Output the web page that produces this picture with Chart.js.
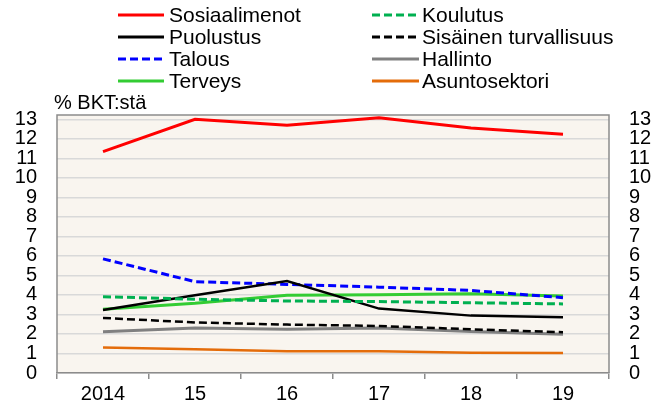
<!DOCTYPE html>
<html>
<head>
<meta charset="utf-8">
<script src="https://cdn.jsdelivr.net/npm/chart.js@4.4.0/dist/chart.umd.min.js"></script>
<style>
html,body{margin:0;padding:0;background:#fff;}
#wrap{width:666px;height:405px;}
</style>
</head>
<body>
<div id="wrap"><canvas id="c" width="666" height="405"></canvas></div>
<script>
const categories = ['2014', '15', '16', '17', '18', '19'];
const yTicks = [0,1,2,3,4,5,6,7,8,9,10,11,12,13];
const seriesNames = ['Sosiaalimenot','Koulutus','Puolustus','Sisäinen turvallisuus','Talous','Hallinto','Terveys','Asuntosektori'];
const sosiaalimenot = [11.34, 13.0, 12.69, 13.08, 12.55, 12.23];
const koulutus      = [3.91, 3.78, 3.69, 3.66, 3.60, 3.54];
const puolustus     = [3.23, 3.98, 4.71, 3.30, 2.94, 2.86];
const sisainen      = [2.82, 2.59, 2.48, 2.41, 2.24, 2.09];
const talous        = [5.85, 4.68, 4.54, 4.40, 4.23, 3.86];
const hallinto      = [2.11, 2.30, 2.24, 2.31, 2.13, 1.99];
const terveys       = [3.27, 3.57, 3.98, 4.01, 4.06, 3.95];
const asuntosektori = [1.31, 1.22, 1.12, 1.11, 1.04, 1.02];
const yTitle = '% BKT:stä';

const FONT = 'Arial, "Liberation Sans", sans-serif';
const styles = [
  {c:'#ff0000', d:[], w:3},
  {c:'#00b050', d:[8,4], w:3},
  {c:'#000000', d:[], w:2.5},
  {c:'#000000', d:[8,4], w:2.5},
  {c:'#0000ff', d:[8,4], w:3},
  {c:'#808080', d:[], w:3},
  {c:'#33cc33', d:[], w:3},
  {c:'#e46c0a', d:[], w:2.5}
];
const values = [sosiaalimenot, koulutus, puolustus, sisainen, talous, hallinto, terveys, asuntosektori];

const datasets = values.map((v,i)=>({
  label: seriesNames[i],
  data: v,
  borderColor: styles[i].c,
  borderDash: styles[i].d,
  borderWidth: styles[i].w,
  pointRadius: 0,
  tension: 0,
  fill: false,
  borderCapStyle: 'butt'
}));

const framePlugin = {
  id: 'frame',
  beforeDraw(chart) {
    const {ctx, chartArea: a} = chart;
    ctx.save();
    ctx.fillStyle = '#f9f5ef';
    ctx.fillRect(a.left, a.top, a.right - a.left, a.bottom - a.top);
    ctx.restore();
  },
  afterDraw(chart) {
    const {ctx, chartArea: a} = chart;
    ctx.save();
    ctx.strokeStyle = '#8c8c8c';
    ctx.lineWidth = 1.5;
    ctx.beginPath();
    ctx.moveTo(a.left, a.bottom);
    ctx.lineTo(a.left, a.top);
    ctx.lineTo(a.right, a.top);
    ctx.lineTo(a.right, a.bottom);
    ctx.stroke();
    // y title
    ctx.fillStyle = '#000';
    ctx.font = '20px ' + FONT;
    ctx.textAlign = 'left';
    ctx.textBaseline = 'alphabetic';
    ctx.fillText(yTitle, a.left - 3, a.top - 6);
    // legend
    const cols = [{x0:118, x1:164, tx:169}, {x0:372, x1:419, tx:422}];
    const rows = [15, 37, 59, 81];
    ctx.font = '21px ' + FONT;
    ctx.textBaseline = 'middle';
    chart.data.datasets.forEach((ds, i) => {
      const col = cols[i % 2];
      const y = rows[Math.floor(i / 2)];
      ctx.strokeStyle = ds.borderColor;
      ctx.lineWidth = 3;
      ctx.setLineDash(ds.borderDash.length ? [8,4] : []);
      ctx.beginPath();
      ctx.moveTo(col.x0, y);
      ctx.lineTo(col.x1, y);
      ctx.stroke();
      ctx.setLineDash([]);
      ctx.fillStyle = '#000';
      ctx.fillText(ds.label, col.tx, y + 1);
    });
    ctx.restore();
  }
};

new Chart(document.getElementById('c'), {
  type: 'line',
  data: { labels: categories, datasets: datasets },
  options: {
    responsive: false,
    animation: false,
    devicePixelRatio: 1,
    layout: { padding: { top: 115, left: 0, right: 0, bottom: 0 } },
    plugins: { legend: { display: false }, tooltip: { enabled: false } },
    scales: {
      x: {
        offset: true,
        grid: { offset: true, drawOnChartArea: false, drawTicks: true, tickLength: 6, color: '#8c8c8c', lineWidth: 1.5 },
        border: { display: true, color: '#8c8c8c', width: 1.5 },
        ticks: { color: '#000', font: { family: FONT, size: 20 }, padding: 3, maxRotation: 0, autoSkip: false },
        afterFit(s) { s.height = 31.5; }
      },
      y: {
        position: 'left',
        min: 0, max: 13.22,
        afterBuildTicks(s) { s.ticks = yTicks.map(v => ({value: v})); },
        grid: { drawTicks: false, color: '#d9d9d9', lineWidth: 1.5 },
        border: { display: false },
        ticks: { color: '#000', font: { family: FONT, size: 20 }, padding: 20, autoSkip: false },
        afterFit(s) { s.width = 57; }
      },
      y2: {
        position: 'right',
        min: 0, max: 13.22,
        afterBuildTicks(s) { s.ticks = yTicks.map(v => ({value: v})); },
        grid: { drawOnChartArea: false, drawTicks: false },
        border: { display: false },
        ticks: { color: '#000', font: { family: FONT, size: 20 }, padding: 20, autoSkip: false },
        afterFit(s) { s.width = 57; }
      }
    }
  },
  plugins: [framePlugin]
});
</script>
</body>
</html>
